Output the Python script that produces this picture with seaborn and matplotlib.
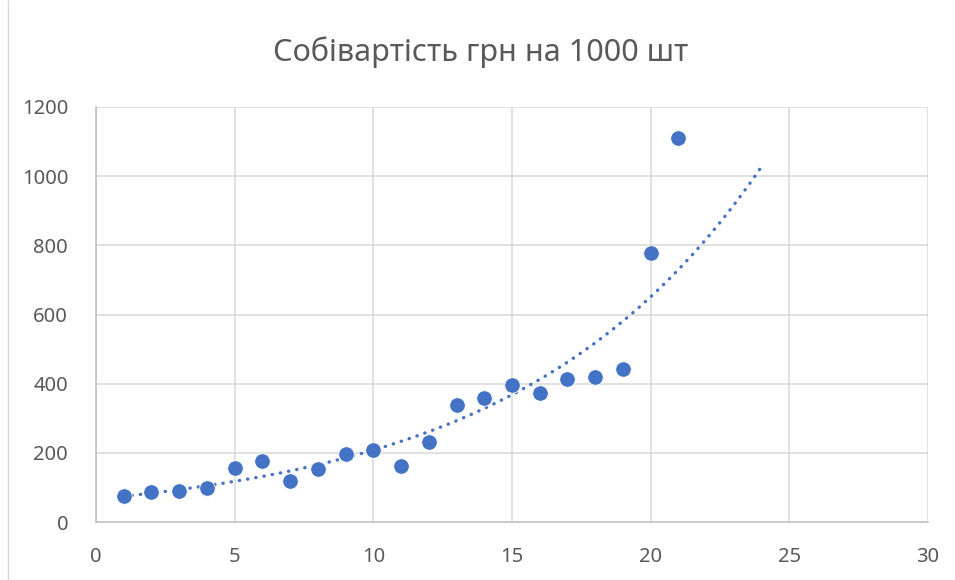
import numpy as np
import pandas as pd
import matplotlib
matplotlib.use('Agg')
import matplotlib.pyplot as plt
from matplotlib.lines import Line2D
import seaborn as sns

# ----- data -----
x_vals = [1, 2, 3, 4, 5, 6, 7, 8, 9, 10, 11, 12, 13, 14, 15, 16, 17, 18, 19, 20, 21]
cost = [75, 87, 89, 98, 156, 177, 118, 153, 197, 209, 162, 231,
        338, 359, 397, 374, 413, 420, 443, 779, 1110]
title = 'Собівартість грн на 1000 шт'
x_ticks = [0, 5, 10, 15, 20, 25, 30]
y_ticks = [0, 200, 400, 600, 800, 1000, 1200]

df = pd.DataFrame({'x': x_vals, 'y': cost})

# exponential trendline (Excel style), forecast forward to 24
b, ln_a = np.polyfit(df['x'], np.log(df['y']), 1)
trend_x = np.linspace(1, 24, 200)
trend = pd.DataFrame({'x': trend_x, 'y': np.exp(ln_a) * np.exp(b * trend_x)})

sns.set_style('white')
plt.rcParams['font.family'] = ['Noto Sans', 'DejaVu Sans']

blue = '#4472C4'
grey_txt = '#595959'
grid_c = '#D9D9D9'

fig = plt.figure(figsize=(9.55, 5.8), dpi=100)
ax = fig.add_axes([96 / 955, 58 / 580, 832 / 955, 415 / 580])

sns.lineplot(data=trend, x='x', y='y', ax=ax, color=blue, linewidth=2.4,
             linestyle=(0, (0.1, 2.4)), dash_capstyle='round', zorder=2)
sns.scatterplot(data=df, x='x', y='y', ax=ax, color=blue, s=125,
                edgecolor='white', linewidth=0.6, zorder=3)

ax.set_xlim(0, 30)
ax.set_ylim(0, 1200)
ax.set_xticks(x_ticks)
ax.set_yticks(y_ticks)
ax.grid(True, color=grid_c, linewidth=1.1)
ax.set_axisbelow(True)
ax.set_xlabel('')
ax.set_ylabel('')
for side in ['top', 'right']:
    ax.spines[side].set_visible(False)
for side in ['left', 'bottom']:
    ax.spines[side].set_color('#BFBFBF')
    ax.spines[side].set_linewidth(1.1)
ax.tick_params(axis='both', length=0, labelsize=14.5, colors=grey_txt)
ax.tick_params(axis='x', pad=18)
ax.tick_params(axis='y', pad=20)

fig.text(0.503, 0.91, title, ha='center', va='center', fontsize=22, color=grey_txt)

# chart border visible on the left edge
fig.add_artist(Line2D([8 / 955, 8 / 955], [0, 1], color='#D9D9D9', linewidth=1.0,
                      transform=fig.transFigure))

fig.savefig('out.png', dpi=100)
